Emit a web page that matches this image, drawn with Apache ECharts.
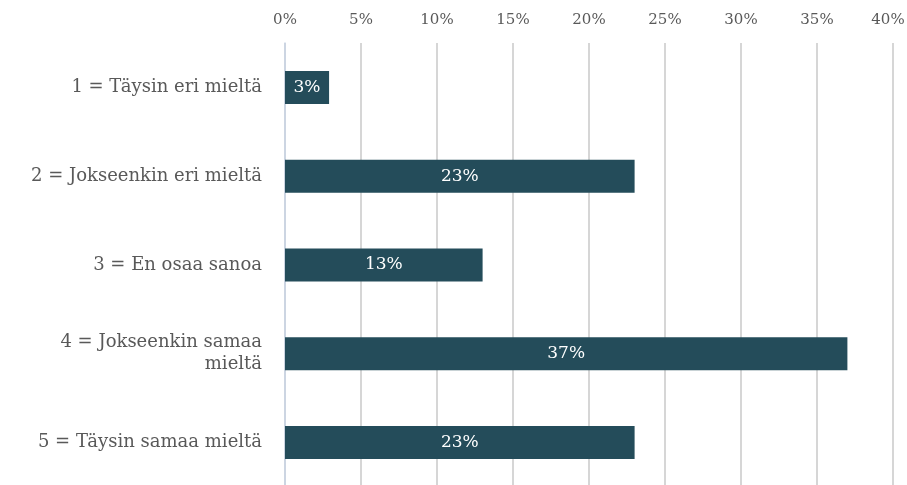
<!DOCTYPE html>
<html>
<head>
<meta charset="utf-8">
<script src="https://cdn.jsdelivr.net/npm/echarts@6/dist/echarts.min.js"></script>
<style>
  html, body { margin: 0; padding: 0; background: #fff; }
  #main { width: 907px; height: 485px; }
</style>
</head>
<body>
<div id="main"></div>
<script>
// 数据
var categories = [
  '1 = Täysin eri mieltä',
  '2 = Jokseenkin eri mieltä',
  '3 = En osaa sanoa',
  '4 = Jokseenkin samaa\nmieltä',
  '5 = Täysin samaa mieltä'
];
var values = [2.9, 23, 13, 37, 23];
var labels = ['3%', '23%', '13%', '37%', '23%'];

var myChart = echarts.init(document.getElementById('main'));

var option = {
  animation: false,
  grid: {
    left: 285,
    right: 14,
    top: 43,
    height: 444,
    outerBoundsMode: 'none'
  },
  xAxis: {
    type: 'value',
    position: 'top',
    min: 0,
    max: 40,
    interval: 5,
    axisLine: { show: false },
    axisTick: { show: false },
    axisLabel: {
      formatter: function(v) {
        // 最后一个标签往左挪一点，不被裁掉
        return v === 40 ? '{last|' + v + '%}' : v + '%';
      },
      rich: {
        last: {
          padding: [0, 10, 0, 0],
          color: '#595959',
          fontFamily: 'DejaVu Serif',
          fontSize: 15
        }
      },
      margin: 15,
      color: '#595959',
      fontFamily: 'DejaVu Serif',
      fontSize: 15
    },
    splitLine: {
      lineStyle: { color: '#c9c9c9', width: 1.5 }
    }
  },
  yAxis: {
    type: 'category',
    inverse: true,
    data: categories,
    axisLine: { lineStyle: { color: '#c8d4e6', width: 1.5 } },
    axisTick: { show: false },
    axisLabel: {
      margin: 23,
      color: '#595959',
      fontFamily: 'DejaVu Serif',
      fontSize: 18,
      lineHeight: 22,
      align: 'right'
    }
  },
  series: [{
    type: 'bar',
    data: values,
    barWidth: 33,
    itemStyle: { color: '#244c5a' },
    label: {
      show: true,
      position: 'inside',
      color: '#ffffff',
      fontFamily: 'DejaVu Serif',
      fontSize: 17,
      formatter: function(p) {
        return labels[p.dataIndex];
      }
    }
  }]
};

myChart.setOption(option);
</script>
</body>
</html>
